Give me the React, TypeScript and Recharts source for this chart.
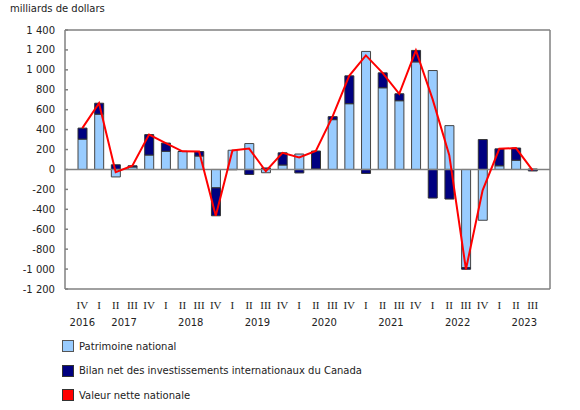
import { ComposedChart, Bar, Line, XAxis, YAxis, CartesianGrid, ReferenceLine } from 'recharts';

const quarters = ['IV', 'I', 'II', 'III', 'IV', 'I', 'II', 'III', 'IV', 'I', 'II', 'III', 'IV', 'I', 'II', 'III', 'IV', 'I', 'II', 'III', 'IV', 'I', 'II', 'III', 'IV', 'I', 'II', 'III'];
const years = [2016, 2017, 2017, 2017, 2017, 2018, 2018, 2018, 2018, 2019, 2019, 2019, 2019, 2020, 2020, 2020, 2020, 2021, 2021, 2021, 2021, 2022, 2022, 2022, 2022, 2023, 2023, 2023];

// milliards de dollars
const patrimoine = [305, 555, -75, 25, 145, 183, 180, 135, -185, 193, 260, -33, 45, 155, 5, 500, 660, 1185, 820, 690, 1080, 993, 440, -985, -510, 37, 93, 5];
const bilan = [110, 110, 47, 12, 205, 82, 2, 45, -280, -3, -50, 15, 122, -35, 180, 30, 280, -40, 150, 70, 115, -287, -297, -17, 300, 170, 122, -15];
const valeurNette = [415, 665, -28, 37, 350, 265, 182, 180, -465, 190, 210, -18, 167, 120, 185, 530, 940, 1145, 970, 760, 1195, 706, 143, -1002, -210, 207, 215, -10];

const yTicks = [-1200, -1000, -800, -600, -400, -200, 0, 200, 400, 600, 800, 1000, 1200, 1400];

const SANS = '"DejaVu Sans", Verdana, sans-serif';

const chartData = quarters.map((q, i) => ({
  key: `${years[i]}-${q}`,
  patrimoine: patrimoine[i],
  bilan: bilan[i],
  valeur: valeurNette[i],
}));

const formatTick = (v: number) => {
  const abs = Math.abs(v);
  const s = abs >= 1000 ? `${Math.floor(abs / 1000)} ${String(abs % 1000).padStart(3, '0')}` : String(abs);
  return v < 0 ? `-${s}` : s;
};

const QuarterTick = ({ x, y, payload }: any) => {
  const i = payload.index;
  const q = quarters[i];
  const half = payload.offset ?? 8;
  const showYear = i === 0 || q === 'II';
  const yearX = i === 0 ? x : x + half;
  return (
    <g>
      <text x={x} y={y + 12} textAnchor="middle" fontFamily='"Liberation Serif", serif' fontSize={11} fill="#222">
        {q}
      </text>
      {showYear && (
        <text x={yearX} y={y + 29} textAnchor="middle" fontFamily={SANS} fontSize={10} fill="#222">
          {years[i]}
        </text>
      )}
    </g>
  );
};

// small inward tick marks plus label, like the source chart
const ValueTick = ({ x, y, payload }: any) => (
  <g>
    <line x1={x + 10} x2={x + 13} y1={y} y2={y} stroke="#808080" strokeWidth={1.5} />
    <text x={x} y={y} dy={3.5} textAnchor="end" fontFamily={SANS} fontSize={10} fill="#222">
      {formatTick(payload.value)}
    </text>
  </g>
);

const legendItems = [
  { label: 'Patrimoine national', color: '#99CCFF', border: '#555' },
  { label: 'Bilan net des investissements internationaux du Canada', color: '#000080', border: '#333' },
  { label: 'Valeur nette nationale', color: '#FF0000', border: '#333' },
];

export default function App() {
  return (
    <div style={{ position: 'absolute', left: 0, top: 0, width: 580, height: 410, background: '#fff' }}>
      <style>{'body{margin:0}'}</style>
      <div style={{ position: 'absolute', left: 10, top: 3, fontFamily: SANS, fontSize: 10, color: '#222' }}>
        milliards de dollars
      </div>
      <div style={{ position: 'absolute', left: 0, top: 0 }}>
        <ComposedChart
          width={580}
          height={334}
          data={chartData}
          stackOffset="sign"
          margin={{ top: 30, right: 30, left: 0, bottom: 0 }}
        >
          <CartesianGrid
            stroke="#808080"
            strokeWidth={1.5}
            horizontalCoordinatesGenerator={({ offset }: any) => [offset.top, offset.top + offset.height]}
            verticalCoordinatesGenerator={({ offset }: any) => [offset.left, offset.left + offset.width]}
          />
          <XAxis
            dataKey="key"
            axisLine={false}
            tickLine={false}
            interval={0}
            height={45}
            padding={{ left: 9, right: 9 }}
            tick={<QuarterTick />}
          />
          <YAxis
            width={65}
            domain={[-1200, 1400]}
            ticks={yTicks}
            interval={0}
            axisLine={false}
            tickLine={false}
            tickSize={4}
            tickMargin={6}
            tick={<ValueTick />}
          />
          <ReferenceLine y={0} stroke="#808080" strokeWidth={1.5} />
          <Bar dataKey="patrimoine" stackId="a" barSize={9} fill="#99CCFF" stroke="#444" strokeWidth={1} isAnimationActive={false} />
          <Bar dataKey="bilan" stackId="a" barSize={9} fill="#000080" stroke="#333" strokeWidth={1} isAnimationActive={false} />
          <Line dataKey="valeur" type="linear" stroke="#FF0000" strokeWidth={2} dot={false} activeDot={false} isAnimationActive={false} />
        </ComposedChart>
      </div>
      {legendItems.map((item, i) => (
        <div
          key={item.label}
          style={{
            position: 'absolute',
            left: 62,
            top: 340 + i * 24.5,
            display: 'flex',
            alignItems: 'center',
            fontFamily: SANS,
            fontSize: 10,
            color: '#222',
          }}
        >
          <span
            style={{
              display: 'inline-block',
              width: 10,
              height: 10,
              background: item.color,
              border: `1px solid ${item.border}`,
              marginRight: 5,
            }}
          />
          {item.label}
        </div>
      ))}
    </div>
  );
}
